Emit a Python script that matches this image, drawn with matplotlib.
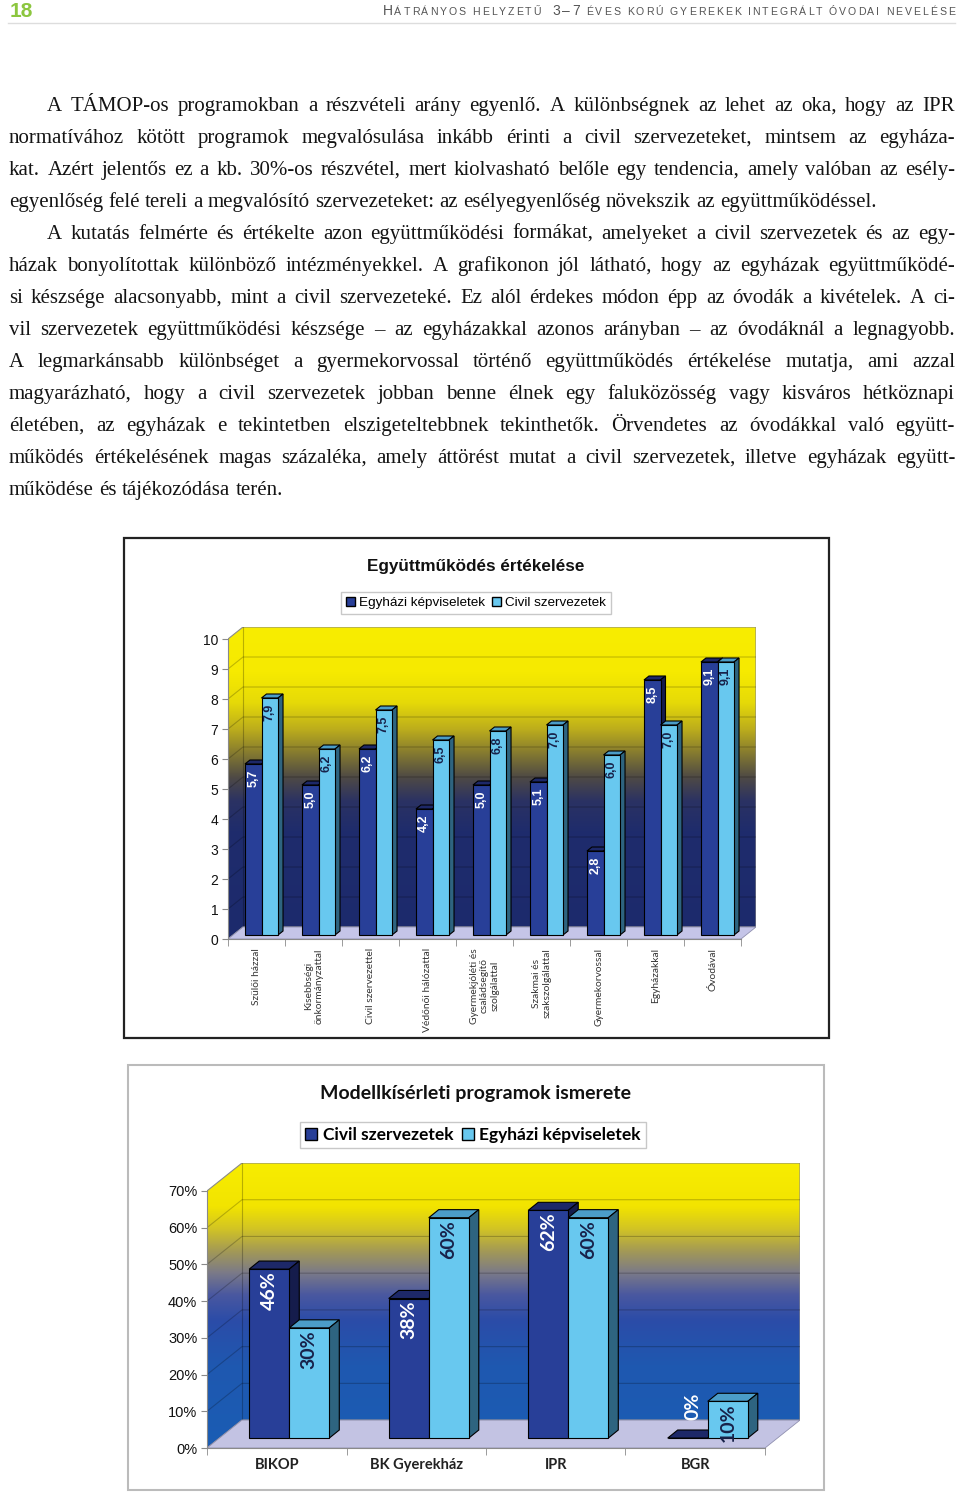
"""Page 18: justified body text and two pseudo-3D bar charts (Excel style)."""

import matplotlib
matplotlib.use("Agg")

import numpy as np
import matplotlib.pyplot as plt
from matplotlib.colors import LinearSegmentedColormap
from matplotlib.patches import Patch, Polygon, Rectangle

W, H = 960, 1494

# chart 1 - Együttműködés értékelése
coop_labels = ["Szülői házzal", "Kisebbségi\nönkormányzattal", "Civil szervezettel",
               "Védőnői hálózattal", "Gyermekjóléti és\ncsaládsegítő\nszolgálattal",
               "Szakmai és\nszakszolgálattal", "Gyermekorvossal", "Egyházakkal", "Óvodával"]
coop_church = [5.7, 5.0, 6.2, 4.2, 5.0, 5.1, 2.8, 8.5, 9.1]
coop_civil = [7.9, 6.2, 7.5, 6.5, 6.8, 7.0, 6.0, 7.0, 9.1]
coop_series = ["Egyházi képviseletek", "Civil szervezetek"]
coop_yticks = list(range(0, 11))

# chart 2 - Modellkísérleti programok ismerete
prog_labels = ["BIKOP", "BK Gyerekház", "IPR", "BGR"]
prog_civil = [46, 38, 62, 0]
prog_church = [30, 60, 60, 10]
prog_series = ["Civil szervezetek", "Egyházi képviseletek"]
prog_yticks = [0, 10, 20, 30, 40, 50, 60, 70]

header_parts = [("H", True), ("ÁTRÁNYOS HELYZETŰ  ", False), ("3–7", True),
                (" ÉVES KORÚ GYEREKEK INTEGRÁLT ÓVODAI NEVELÉSE", False)]

# (text, indented, justified)
body_lines = [
    ("A TÁMOP-os programokban a részvételi arány egyenlő. A különbségnek az lehet az oka, hogy az IPR", True, True),
    ("normatívához kötött programok megvalósulása inkább érinti a civil szervezeteket, mintsem az egyháza-", False, True),
    ("kat. Azért jelentős ez a kb. 30%-os részvétel, mert kiolvasható belőle egy tendencia, amely valóban az esély-", False, True),
    ("egyenlőség felé tereli a megvalósító szervezeteket: az esélyegyenlőség növekszik az együttműködéssel.", False, False),
    ("A kutatás felmérte és értékelte azon együttműködési formákat, amelyeket a civil szervezetek és az egy-", True, True),
    ("házak bonyolítottak különböző intézményekkel. A grafikonon jól látható, hogy az egyházak együttműködé-", False, True),
    ("si készsége alacsonyabb, mint a civil szervezeteké. Ez alól érdekes módon épp az óvodák a kivételek. A ci-", False, True),
    ("vil szervezetek együttműködési készsége – az egyházakkal azonos arányban – az óvodáknál a legnagyobb.", False, True),
    ("A legmarkánsabb különbséget a gyermekorvossal történő együttműködés értékelése mutatja, ami azzal", False, True),
    ("magyarázható, hogy a civil szervezetek jobban benne élnek egy faluközösség vagy kisváros hétköznapi", False, True),
    ("életében, az egyházak e tekintetben elszigeteltebbnek tekinthetők. Örvendetes az óvodákkal való együtt-", False, True),
    ("működés értékelésének magas százaléka, amely áttörést mutat a civil szervezetek, illetve egyházak együtt-", False, True),
    ("működése és tájékozódása terén.", False, False),
]

SANS = ["Liberation Sans", "DejaVu Sans"]
SERIF = ["Liberation Serif", "DejaVu Serif"]
CAL = ["Lato", "DejaVu Sans"]

DARK = dict(front="#283f98", top="#1d2868", side="#151c4c")
LIGHT = dict(front="#68c8ef", top="#4b9dc8", side="#2e6480")


def px_axes(fig, left, top, right, bottom):
    return fig.add_axes([left / W, 1 - bottom / H, (right - left) / W, (bottom - top) / H])


def wall_cmap(stops, wy, top):
    return LinearSegmentedColormap.from_list(
        "wall", [(min(1.0, (v + wy) / top) if v > 0 else 0.0, c) for v, c in stops])


def bars_3d(ax, dark, light, ymax, wall, depth, bw, stops, step, floor, fmt, lkw, lpad):
    n = len(dark)
    wx, wy = wall
    dx, dy = depth
    sx, sy = (wx - dx) / 2, (wy - dy) / 2
    ax.patch.set_visible(False)

    grad = np.linspace(0, 1, 512).reshape(-1, 1)
    img = ax.imshow(grad, extent=(0, n + wx, 0, ymax + wy), origin="lower", aspect="auto",
                    cmap=wall_cmap(stops, wy, ymax + wy), zorder=0, interpolation="bilinear")
    outline = Polygon([(0, 0), (wx, wy), (n + wx, wy), (n + wx, ymax + wy), (wx, ymax + wy), (0, ymax)],
                      closed=True, fill=False, edgecolor="#8a8a8a", lw=0.8, zorder=1)
    ax.add_patch(outline)
    img.set_clip_path(outline)
    for v in np.arange(step, ymax, step):
        ax.plot([0, wx, n + wx], [v, v + wy, v + wy], color="black", alpha=0.22, lw=0.8, zorder=1)
    ax.plot([wx, wx], [wy, ymax + wy], color="black", alpha=0.25, lw=0.8, zorder=1)
    ax.add_patch(Polygon([(0, 0), (n, 0), (n + wx, wy), (wx, wy)], closed=True,
                         facecolor=floor, edgecolor="#9090b0", lw=0.6, zorder=2))

    x = np.arange(n) + 0.5 + sx
    specs = [(x - bw, dark, DARK, "white", 3), (x, light, LIGHT, "#18224a", 4)]
    for xs, vals, col, tcol, z in specs:
        ax.bar(xs, vals, width=bw, bottom=sy, align="edge", color=col["front"],
               edgecolor="black", lw=0.8, zorder=z + 0.5)
        for x0, v in zip(xs, vals):
            top = v + sy
            ax.add_patch(Polygon([(x0, top), (x0 + bw, top), (x0 + bw + dx, top + dy), (x0 + dx, top + dy)],
                                 facecolor=col["top"], edgecolor="black", lw=0.8, zorder=z))
            ax.add_patch(Polygon([(x0 + bw, sy), (x0 + bw + dx, sy + dy), (x0 + bw + dx, top + dy), (x0 + bw, top)],
                                 facecolor=col["side"], edgecolor="black", lw=0.8, zorder=z))
            if v > 0:
                ax.text(x0 + bw / 2, top - ymax * lpad, fmt(v), rotation=90, ha="center", va="top",
                        color=tcol, zorder=10, **lkw)
            else:
                ax.text(x0 + bw / 2 + dx / 2, top + dy + ymax * 0.04, fmt(v), rotation=90, ha="center",
                        va="bottom", color=tcol, zorder=10, **lkw)

    ax.set_xlim(0, n + wx)
    ax.set_ylim(0, ymax + wy)
    for s in ("top", "right"):
        ax.spines[s].set_visible(False)
    for s in ("left", "bottom"):
        ax.spines[s].set_color("#8a8a8a")
        ax.spines[s].set_linewidth(0.8)
    ax.spines["left"].set_bounds(0, ymax)
    ax.spines["bottom"].set_bounds(0, n)
    ax.set_xticks(np.arange(n + 1), minor=True)
    ax.tick_params(axis="x", which="minor", length=5, color="#8a8a8a")
    ax.tick_params(axis="y", length=4, color="#8a8a8a", pad=3)


def tracked_header(fig, parts, right, y, big, small, tracking):
    r = fig.canvas.get_renderer()
    items, x = [], 0.0
    for chunk, is_big in parts:
        for ch in chunk:
            if ch == " ":
                x += 3 + tracking
                continue
            t = fig.text(0, 1 - y / H, ch, fontsize=big if is_big else small, color="#555555",
                         va="baseline", ha="left", family=SANS)
            items.append((t, x))
            x += t.get_window_extent(r).width + tracking
    shift = right - (x - tracking)
    for t, x0 in items:
        t.set_x((x0 + shift) / W)


def body_line(fig, text, left, right, y, size, justify):
    r = fig.canvas.get_renderer()
    words = text.split(" ")
    objs = [fig.text(0, 1 - y / H, w, fontsize=size, family=SERIF, color="#141414",
                     va="baseline", ha="left") for w in words]
    widths = [o.get_window_extent(r).width for o in objs]
    gap = size * 0.25 * 100 / 72
    if justify and len(words) > 1:
        gap = (right - left - sum(widths)) / (len(words) - 1)
    x = left
    for o, w in zip(objs, widths):
        o.set_x(x / W)
        x += w + gap


fig = plt.figure(figsize=(W / 100, H / 100), dpi=100)

# header
fig.text(10 / W, 1 - 17 / H, "18", fontsize=15, fontweight="bold", color="#8cc63f",
         family=["Liberation Sans Narrow", "Liberation Sans"], va="baseline")
tracked_header(fig, header_parts, 955, 15, 10, 7.6, 1.9)
fig.add_artist(plt.Line2D([8 / W, 955 / W], [1 - 23 / H] * 2, color="#dddddd", lw=1))

# body text
for i, (line, indent, just) in enumerate(body_lines):
    body_line(fig, line, 47 if indent else 9, 955, 111 + 32 * i, 15, just)

# chart 1 frame, title, legend
fig.add_artist(Rectangle((124 / W, 1 - 1038 / H), 705 / W, 500 / H, transform=fig.transFigure,
                         fill=False, edgecolor="#222222", lw=1.6))
fig.text(476 / W, 1 - 566 / H, "Együttműködés értékelése", fontsize=12.3, fontweight="bold",
         family=SANS, ha="center", va="center", color="#111111")
fig.legend([Patch(facecolor=DARK["front"], edgecolor="black"), Patch(facecolor=LIGHT["front"], edgecolor="black")],
           coop_series, loc="center", bbox_to_anchor=(476 / W, 1 - 603 / H), ncol=2, frameon=True,
           fancybox=False, edgecolor="#bbbbbb", prop=dict(family=SANS, size=9.7), handlelength=0.7,
           handleheight=0.7, handletextpad=0.3, columnspacing=0.5, borderpad=0.35)

ax1 = px_axes(fig, 228, 627, 756, 939)
bars_3d(ax1, coop_church, coop_civil, 10, (15 / 57, 0.4), (5 / 57, 4 / 30), 0.29,
        [(0, "#1c2a6d"), (3.2, "#1f2c6c"), (4.2, "#2b3263"), (5.0, "#4f4a45"), (5.8, "#857a30"),
         (6.6, "#bcad1c"), (7.5, "#e6da08"), (8.5, "#f6ea00"), (10.4, "#f8ed00")],
        1, "#c5c5e8", lambda v: f"{v:.1f}".replace(".", ","),
        dict(fontsize=9, fontweight="bold", family=SANS), 0.018)
ax1.set_yticks(coop_yticks)
ax1.set_yticklabels([str(v) for v in coop_yticks], family=SANS, fontsize=10, color="#111111")
ax1.set_xticks(np.arange(len(coop_labels)) + 0.5)
ax1.set_xticklabels(coop_labels, rotation=90, ha="center", va="top", multialignment="center",
                    family=CAL, fontsize=7.4, color="#333333")
ax1.tick_params(axis="x", which="major", length=0, pad=6.5)

# chart 2 frame, title, legend
fig.add_artist(Rectangle((128 / W, 1 - 1490 / H), 696 / W, 425 / H, transform=fig.transFigure,
                         fill=False, edgecolor="#bbbbbb", lw=1.5))
fig.text(476 / W, 1 - 1093 / H, "Modellkísérleti programok ismerete", fontsize=14, fontweight="bold",
         family=CAL, ha="center", va="center", color="#111111")
fig.legend([Patch(facecolor=DARK["front"], edgecolor="black"), Patch(facecolor=LIGHT["front"], edgecolor="black")],
           prog_series, loc="center", bbox_to_anchor=(473 / W, 1 - 1135 / H), ncol=2, frameon=True,
           fancybox=False, edgecolor="#bbbbbb", prop=dict(family=CAL, size=12.5, weight="bold"),
           handlelength=0.7, handleheight=0.7, handletextpad=0.3, columnspacing=0.5, borderpad=0.3)

ax2 = px_axes(fig, 207, 1163, 800, 1448)
bars_3d(ax2, prog_civil, prog_church, 70, (35 / 139.5, 7.6), (10 / 139.5, 2.2), 0.287,
        [(0, "#1a5db4"), (15, "#1f58b0"), (27, "#2b4ca8"), (34, "#4a58a0"), (40, "#7b7a88"),
         (46, "#a49a55"), (52, "#d2c424"), (58, "#f2e400"), (77.6, "#f8ed00")],
        10, "#c3c3e3", lambda v: f"{v:.0f}%",
        dict(fontsize=14, fontweight="bold", family=CAL), 0.008)
ax2.set_yticks(prog_yticks)
ax2.set_yticklabels([f"{v}%" for v in prog_yticks], family=SANS, fontsize=10.5, color="#111111")
ax2.set_xticks(np.arange(len(prog_labels)) + 0.5)
ax2.set_xticklabels(prog_labels, family=CAL, fontsize=10.5, fontweight="bold", color="#222222")
ax2.tick_params(axis="x", which="major", length=0, pad=7)

fig.savefig("out.png", dpi=100)
